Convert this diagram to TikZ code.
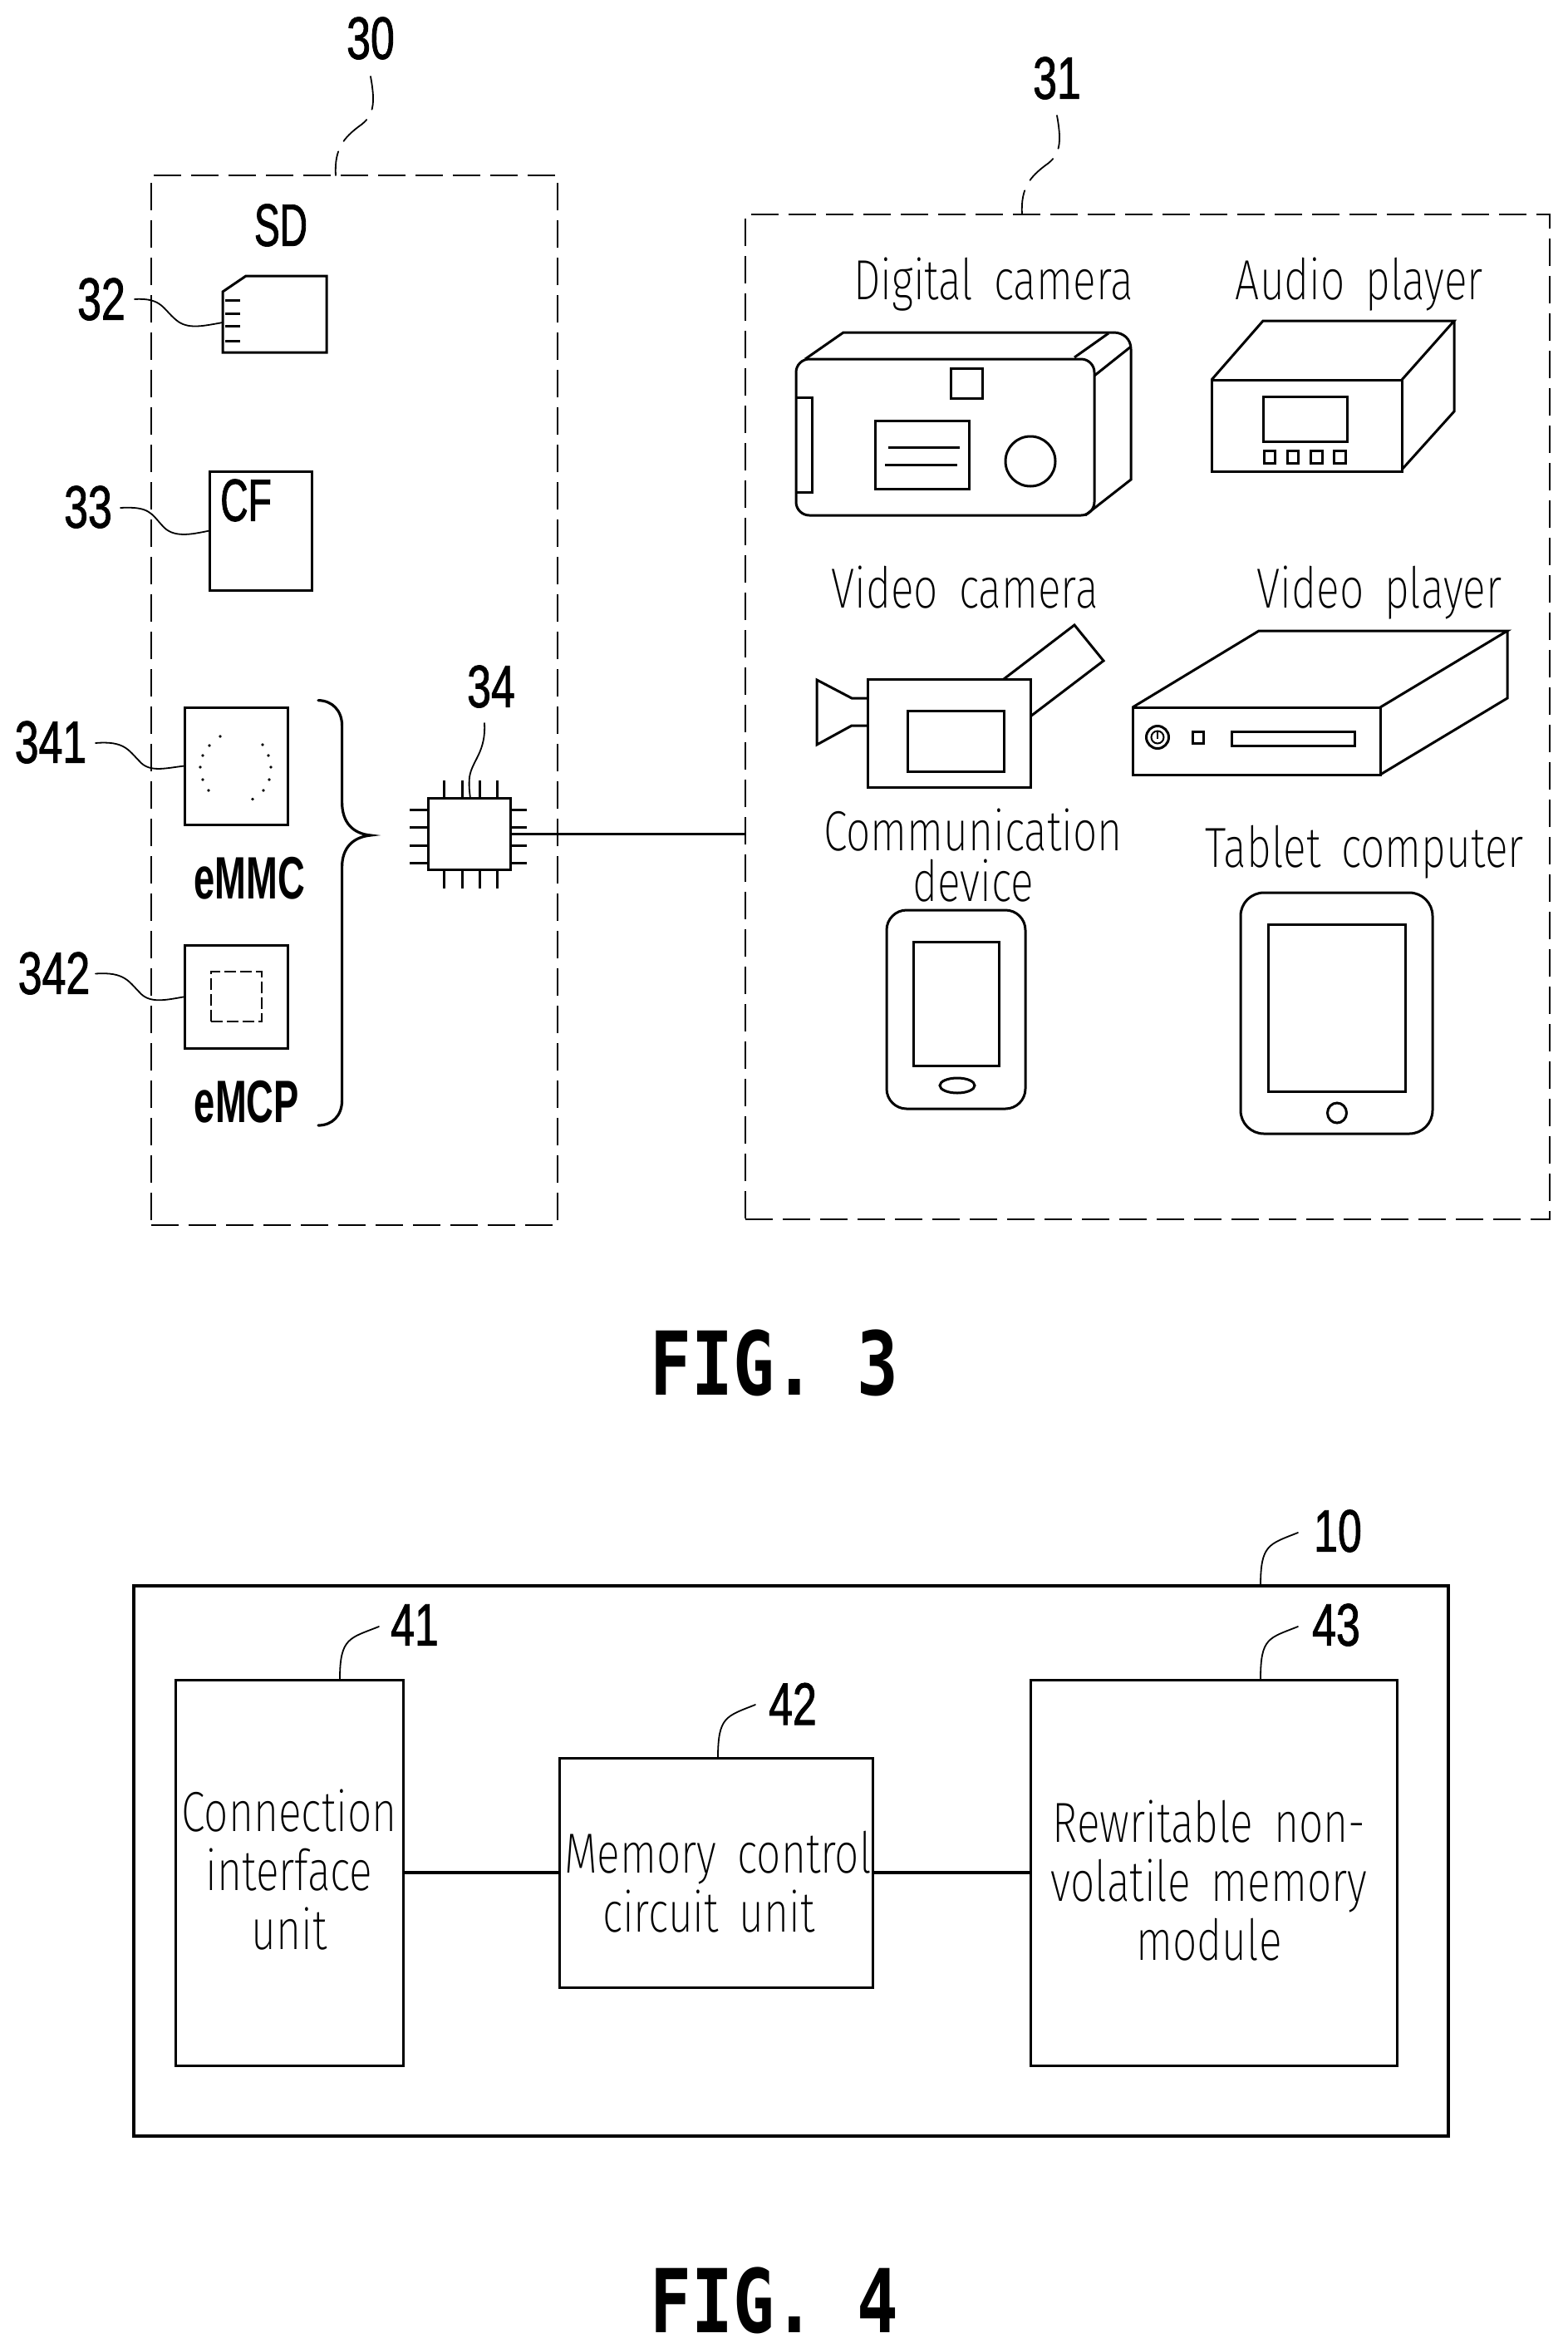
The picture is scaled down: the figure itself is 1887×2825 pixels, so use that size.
\documentclass[tikz,border=0pt]{standalone}
\usepackage{fontspec}
\usetikzlibrary{calc}
\newfontfamily\thinf[FakeStretch=0.76,WordSpace=1.7]{Fira Sans ExtraLight}
\newfontfamily\numf[FakeStretch=0.72,FakeBold=1.2]{Liberation Sans}
\newfontfamily\letf[FakeStretch=0.64,FakeBold=1.2]{Liberation Sans}
\newfontfamily\boldf[FakeStretch=0.63]{Liberation Sans Bold}
\newfontfamily\figf[FakeStretch=0.78,WordSpace=1.0]{DejaVu Sans Mono Bold}
\tikzset{
  lw/.style={line width=3pt,line join=miter},
  box/.style={draw,lw,inner sep=0pt,outer sep=0pt},
  roundbox/.style={box,rounded corners=#1},
  dashbox/.style={draw,line width=2.2pt,inner sep=0pt,outer sep=0pt,dash pattern=on 33pt off 12pt},
  leader/.style={line width=1.8pt,line cap=round},
  pin/.style={line width=3pt},
  numlab/.style={inner sep=0pt,outer sep=0pt,font=\numf\fontsize{72}{72}\selectfont},
  letlab/.style={inner sep=0pt,outer sep=0pt,font=\letf\fontsize{72}{72}\selectfont},
  boldlab/.style={inner sep=0pt,outer sep=0pt,font=\boldf\fontsize{72}{72}\selectfont},
  devlab/.style={inner sep=0pt,outer sep=0pt,anchor=base,font=\thinf\fontsize{68}{70}\selectfont},
  blocklab/.style={inner sep=0pt,outer sep=0pt,align=center,font=\thinf\fontsize{68}{71}\selectfont},
  figlab/.style={inner sep=0pt,outer sep=0pt,font=\figf\fontsize{106}{110}\selectfont},
  dotmark/.style={fill,inner sep=0pt,outer sep=0pt,circle,minimum size=3.8pt}
}
\begin{document}
\begin{tikzpicture}[x=1pt,y=-1pt]
\useasboundingbox (0,0) rectangle (1887,2825);
\fill[white] (0,0) rectangle (1887,2825);
% ---- FIG 3 left
\node[dashbox,minimum width=489pt,minimum height=1263pt] (n30) at (426.5,842.5) {};
\node[dashbox,minimum width=968pt,minimum height=1209pt] (n31) at (1381,862.5) {};
\node[numlab] (l30) at (446,46) {30};
\node[numlab] (l31) at (1272,94) {31};
\coordinate (s30) at (446,92);
\coordinate (e30) at (404,211);
\coordinate (s31) at (1272,139);
\coordinate (e31) at (1230,258);
\draw[leader,dash pattern=on 40pt off 14pt on 38pt off 14pt on 30pt off 0pt] (s30) .. controls (452,125) and (450,140) .. (432,152) .. controls (415,165) and (402,178) .. (e30);
\draw[leader,dash pattern=on 40pt off 14pt on 38pt off 14pt on 30pt off 0pt] (s31) .. controls (1278,172) and (1276,187) .. (1258,199) .. controls (1241,212) and (1228,225) .. (e31);
\node[letlab] (sd) at (338,271) {SD};
\node[numlab] (l32) at (122,360) {32};
\draw[lw] (268,351) -- (296,332) -- (393,332) -- (393,424) -- (268,424) -- cycle;
\foreach \yy in {361,377,392,410} \draw[pin] (271,\yy) -- (289,\yy);
\coordinate (s32) at (162,360);
\coordinate (e32) at (268,388);
\draw[leader] (s32) .. controls (195,358) and (196,372) .. (212,385) .. controls (226,397) and (245,392) .. (e32);
\node[box,minimum width=123pt,minimum height=143pt] (cf) at (313.5,638.5) {};
\node[letlab] (cft) at (296,602) {CF};
\node[numlab] (l33) at (106,610) {33};
\coordinate (s33) at (145,611);
\draw[leader] (s33) .. controls (180,609) and (182,618) .. (195,632) .. controls (208,648) and (230,643) .. (cf.west);
\node[box,minimum width=124pt,minimum height=141pt] (emmc) at (284,921.5) {};
\foreach \p in {(265,886),(252,897),(244,909),(241,923),(244,938),(251,951),(304,961.5),(317,951),(324,938),(326,923),(323,909),(316,896)}
  \node[dotmark] at \p {};
\node[boldlab] (emmct) at (300,1057) {eMMC};
\node[numlab] (l341) at (61,893) {341};
\coordinate (s341) at (115,894);
\draw[leader] (s341) .. controls (150,891) and (155,903) .. (168,916) .. controls (180,930) and (200,924) .. (emmc.west);
\node[box,minimum width=124pt,minimum height=123.5pt] (emcp) at (284,1199.25) {};
\node[draw,line width=1.5pt,inner sep=0pt,outer sep=0pt,dash pattern=on 14pt off 5pt,minimum width=61pt,minimum height=60pt] (inner) at (284.5,1199) {};
\node[boldlab] (emcpt) at (297,1326) {eMCP};
\node[numlab] (l342) at (65,1171) {342};
\coordinate (s342) at (115,1171.5);
\draw[leader] (s342) .. controls (150,1169) and (155,1181) .. (168,1194) .. controls (180,1208) and (200,1203) .. (emcp.west);
\coordinate (bt) at (383,842.6);
\coordinate (bb) at (383,1354);
\coordinate (btip) at (446,1005);
\draw[line width=3.2pt,line cap=round] (bt) .. controls (400,843) and (411.6,855) .. (411.6,873) -- (411.6,965) .. controls (411.6,990) and (425,1003) .. (btip) .. controls (425,1007) and (411.6,1020) .. (411.6,1043) -- (411.6,1324) .. controls (411.6,1342) and (400,1354) .. (bb);
\node[box,minimum width=99pt,minimum height=86pt] (chip) at (564.5,1003.5) {};
\foreach \xx in {534,556,577,598} {
  \draw[pin] (\xx,939) -- (\xx,960.5);
  \draw[pin] (\xx,1046.5) -- (\xx,1069);
}
\foreach \yy in {974,995.5,1017,1038} {
  \draw[pin] (493,\yy) -- (515,\yy);
  \draw[pin] (614,\yy) -- (634,\yy);
}
\node[numlab] (l34) at (591,826) {34};
\coordinate (s34) at (583,870);
\coordinate (e34) at (566,960.5);
\draw[leader] (s34) .. controls (585,905) and (568,915) .. (565,935) .. controls (564,945) and (565,952) .. (e34);
\draw[line width=3.4pt] (chip.east) -- (chip.east -| n31.west);
% ---- camera
\node[devlab] (t1) at (1195.5,360) {Digital camera};
\draw[lw,rounded corners=16pt] (1100,432) -- (1317,432) -- (1317,620) -- (958,620) -- (958,432) -- cycle;
\draw[lw] (969,432) -- (1015,400) -- (1340,400);
\draw[lw] (1340,400) .. controls (1352,400) and (1361,408) .. (1361,420) -- (1361,577) -- (1306,620);
\draw[lw] (1293,430) -- (1334,401);
\draw[lw] (1317,452) -- (1361,417);
\draw[lw] (1144,443) rectangle (1182,479);
\draw[lw] (958,478) -- (977,478) -- (977,592) -- (958,592);
\draw[lw] (1053,506) rectangle (1166,588);
\draw[lw] (1069,538) -- (1155,538);
\draw[lw] (1065,559) -- (1152,559);
\draw[lw] (1240,555) circle (30pt);
% ---- audio player
\node[devlab] (t2) at (1636,360) {Audio player};
\draw[lw] (1458,457) rectangle (1687,567);
\draw[lw] (1458,457) -- (1520,386) -- (1750,386) -- (1687,457);
\draw[lw] (1750,386) -- (1750,495) -- (1687,565);
\draw[lw] (1520,477) rectangle (1621,531);
\draw[lw] (1521,542) rectangle (1534,557);
\draw[lw] (1549,542) rectangle (1562,557);
\draw[lw] (1577,542) rectangle (1591,557);
\draw[lw] (1605,542) rectangle (1619,557);
% ---- video camera
\node[devlab] (t3) at (1161,731) {Video camera};
\draw[lw] (1044,817) rectangle (1240,947);
\draw[lw] (1092,855) rectangle (1208,928);
\draw[lw] (1044,840) -- (1025,840) -- (983,818) -- (983,896) -- (1025,873) -- (1044,873);
\draw[lw] (1208,817) -- (1293,752) -- (1328,795) -- (1240,862);
% ---- video player
\node[devlab] (t4) at (1660,731) {Video player};
\draw[lw] (1363,851) rectangle (1661,932);
\draw[lw] (1363,851) -- (1515,759) -- (1814,759) -- (1661,851);
\draw[lw] (1814,759) -- (1814,840) -- (1661,932);
\draw[lw] (1393,887) circle (13.5pt);
\draw[line width=2pt] (1393,887) circle (7.5pt);
\draw[line width=1.6pt] (1393,880) -- (1393,889);
\draw[lw] (1435,880) rectangle (1448,894);
\draw[lw] (1482,880) rectangle (1630,897);
% ---- phone and tablet
\node[inner sep=0pt,outer sep=0pt,align=center,font=\thinf\fontsize{68}{61}\selectfont] (t5) at (1171,1029) {Communication\\device};
\node[devlab] (t6) at (1642,1043) {Tablet computer};
\node[roundbox=24pt,minimum width=167pt,minimum height=239pt] (phone) at (1150.5,1214.5) {};
\node[box,minimum width=103pt,minimum height=149pt] (phones) at (1150.5,1207.5) {};
\draw[lw] (1152,1306) ellipse (21pt and 9pt);
\node[roundbox=28pt,minimum width=231pt,minimum height=290pt] (tablet) at (1608.5,1219) {};
\node[box,minimum width=165pt,minimum height=201pt] (tablets) at (1608.5,1212.5) {};
\draw[lw] (1609,1339) ellipse (11.5pt and 12pt);
% ---- captions
\node[figlab] (f3) at (932,1640) {FIG. 3};
\node[figlab] (f4) at (932,2768) {FIG. 4};
% ---- FIG 4
\node[box,line width=4pt,minimum width=1582pt,minimum height=662pt] (n10) at (952,2239) {};
\node[box,minimum width=274pt,minimum height=464pt] (n41) at (348,2253) {};
\node[box,minimum width=377pt,minimum height=276pt] (n42) at (862,2253) {};
\node[box,minimum width=441pt,minimum height=464pt] (n43) at (1460.5,2253) {};
\draw[lw,line width=4pt] (n41.east) -- (n42.west);
\draw[lw,line width=4pt] (n42.east) -- (n43.west);
\node[blocklab] (t41) at (348,2250) {Connection\\interface\\unit};
\node[blocklab] (t42) at (864,2264) {Memory control\\circuit unit\hspace*{22pt}};
\node[blocklab] (t43) at (1455,2263) {Rewritable non-\\volatile memory\\module};
\node[numlab] (l10) at (1610,1842) {10};
\node[numlab] (l41) at (499,1955) {41};
\node[numlab] (l42) at (954,2050) {42};
\node[numlab] (l43) at (1608,1955) {43};
\coordinate (s10) at (1562,1844);
\coordinate (e10) at (1517,1908);
\coordinate (s41) at (456,1957);
\coordinate (e41) at (409,2020);
\coordinate (s42) at (909,2051);
\coordinate (e42) at (864,2115);
\coordinate (s43) at (1562,1957);
\coordinate (e43) at (1517,2020);
\foreach \a/\b in {s10/e10,s41/e41,s42/e42,s43/e43}
  \draw[leader] (\a) .. controls ($(\a)+(-35,14)$) and ($(\b)+(0,-50)$) .. (\b);
\end{tikzpicture}
\end{document}
